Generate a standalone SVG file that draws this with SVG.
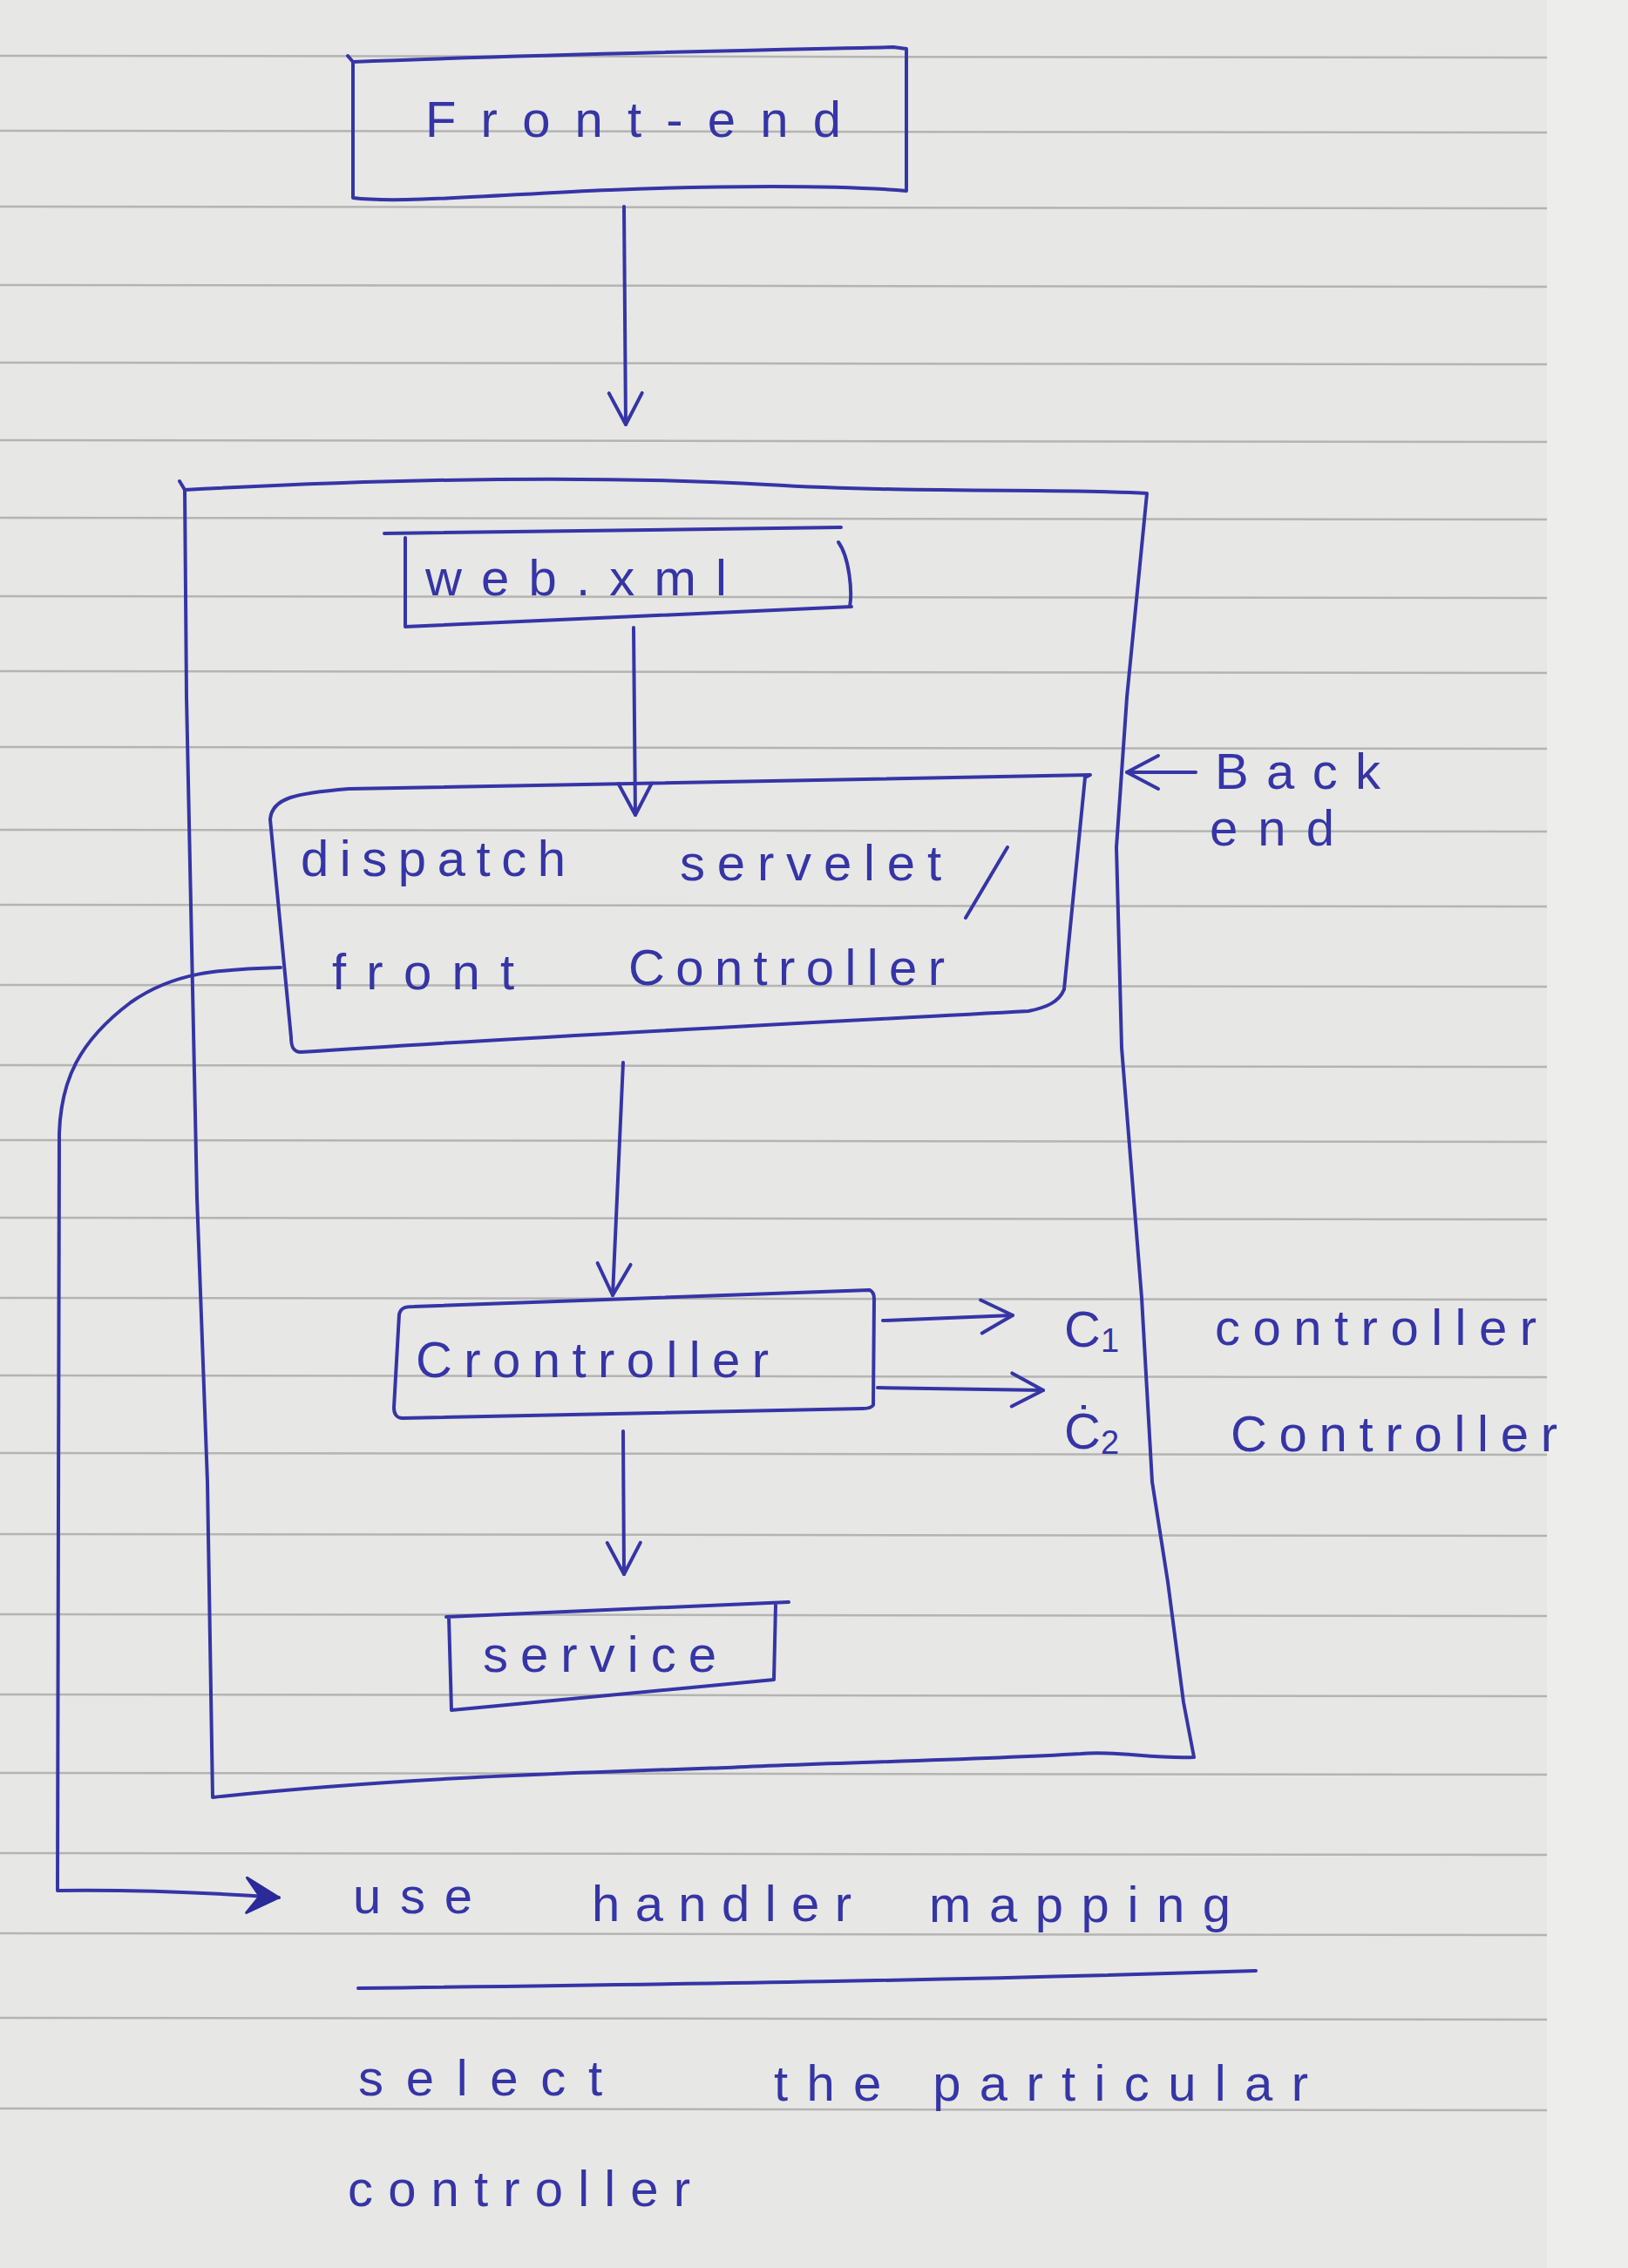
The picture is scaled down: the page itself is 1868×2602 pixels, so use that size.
<svg xmlns="http://www.w3.org/2000/svg" width="1868" height="2602" viewBox="0 0 1868 2602">
<defs>
<style>
.ink{fill:none;stroke:#3535a6;stroke-width:4;stroke-linecap:round;stroke-linejoin:round}
.t{font-family:"Liberation Sans",Arial,sans-serif;fill:#3535a6;font-size:58px;lengthAdjust:spacing}
.rule{stroke:#b4b4b2;stroke-width:2.5}
</style>
<marker id="v" viewBox="0 0 44 44" refX="40" refY="22" markerWidth="44" markerHeight="44" markerUnits="userSpaceOnUse" orient="auto">
<path d="M4,3 L40,22 L4,41" fill="none" stroke="#3535a6" stroke-width="4" stroke-linecap="round" stroke-linejoin="round"/>
</marker>
<marker id="f" viewBox="0 0 44 44" refX="40" refY="22" markerWidth="44" markerHeight="44" markerUnits="userSpaceOnUse" orient="auto">
<path d="M2,2 L40,22 L4,42 L18,22 Z" fill="#2a2a9a" stroke="#2a2a9a" stroke-width="3" stroke-linejoin="round"/>
</marker>
</defs>
<rect width="1868" height="2602" fill="#e7e7e5"/>
<rect x="1775" y="0" width="93" height="2602" fill="#ededec"/>
<g id="paper-rules">
<line class="rule" x1="0" y1="64" x2="1775" y2="66"/>
<line class="rule" x1="0" y1="150" x2="1775" y2="152"/>
<line class="rule" x1="0" y1="237" x2="1775" y2="239"/>
<line class="rule" x1="0" y1="327" x2="1775" y2="329"/>
<line class="rule" x1="0" y1="416" x2="1775" y2="418"/>
<line class="rule" x1="0" y1="505" x2="1775" y2="507"/>
<line class="rule" x1="0" y1="594" x2="1775" y2="596"/>
<line class="rule" x1="0" y1="684" x2="1775" y2="686"/>
<line class="rule" x1="0" y1="770" x2="1775" y2="772"/>
<line class="rule" x1="0" y1="857" x2="1775" y2="859"/>
<line class="rule" x1="0" y1="952" x2="1775" y2="954"/>
<line class="rule" x1="0" y1="1038" x2="1775" y2="1040"/>
<line class="rule" x1="0" y1="1130" x2="1775" y2="1132"/>
<line class="rule" x1="0" y1="1222" x2="1775" y2="1224"/>
<line class="rule" x1="0" y1="1308" x2="1775" y2="1310"/>
<line class="rule" x1="0" y1="1397" x2="1775" y2="1399"/>
<line class="rule" x1="0" y1="1489" x2="1775" y2="1491"/>
<line class="rule" x1="0" y1="1578" x2="1775" y2="1580"/>
<line class="rule" x1="0" y1="1667" x2="1775" y2="1669"/>
<line class="rule" x1="0" y1="1760" x2="1775" y2="1762"/>
<line class="rule" x1="0" y1="1852" x2="1775" y2="1854"/>
<line class="rule" x1="0" y1="1944" x2="1775" y2="1946"/>
<line class="rule" x1="0" y1="2034" x2="1775" y2="2036"/>
<line class="rule" x1="0" y1="2126" x2="1775" y2="2128"/>
<line class="rule" x1="0" y1="2218" x2="1775" y2="2220"/>
<line class="rule" x1="0" y1="2315" x2="1775" y2="2317"/>
<line class="rule" x1="0" y1="2419" x2="1775" y2="2421"/>
</g>
<g id="frontend">
<path class="ink" d="M399,64 L405,71 C600,63 850,58 1025,54 L1040,56 L1040,219 C960,212 820,213 700,218 C590,222 460,234 405,227 L405,71"/>
<text class="t" x="488" y="157" textLength="477" lengthAdjust="spacing">Front-end</text>
</g>
<g id="backend">
<path class="ink" d="M206,552 L212,562 C400,552 650,543 880,556 C1050,566 1230,560 1316,566 L1293,800 L1281,972 L1287,1202 L1310,1489 L1322,1700 L1340,1815 L1358,1953 L1370,2016 C1320,2018 1280,2008 1240,2012 C1100,2020 950,2022 834,2028 C650,2034 450,2040 244,2062 L238,1700 L226,1374 L214,800 L212,562"/>
<text class="t" x="1394" y="905" textLength="190" lengthAdjust="spacing">Back</text>
<text class="t" x="1388" y="970" textLength="143" lengthAdjust="spacing">end</text>
</g>
<g id="webxml">
<path class="ink" d="M441,612 L965,605 M465,617 L465,719 L977,696 M962,622 C975,640 978,680 975,696"/>
<text class="t" x="488" y="683" textLength="346" lengthAdjust="spacing" font-size="52">web.xml</text>
</g>
<g id="dispatcher">
<path class="ink" d="M310,940 C312,915 340,910 400,905 L1251,889 L1245,892 L1221,1135 C1215,1150 1200,1156 1180,1160 C900,1175 600,1190 345,1207 C336,1207 334,1200 334,1190 L310,940"/>
<text class="t" x="345" y="1005" textLength="304" lengthAdjust="spacing">dispatch</text>
<text class="t" x="780" y="1010" textLength="300" lengthAdjust="spacing">servelet</text>
<path class="ink" d="M1156,972 L1108,1053"/>
<text class="t" x="381" y="1135" textLength="209" lengthAdjust="spacing">front</text>
<text class="t" x="721" y="1130" textLength="363" lengthAdjust="spacing">Controller</text>
</g>
<g id="controller">
<path class="ink" d="M458,1508 C460,1500 465,1499 475,1499 L998,1480 C1002,1482 1003,1485 1003,1490 L1002,1612 C1000,1615 995,1616 990,1616 L462,1627 C455,1627 452,1622 452,1615 Z"/>
<text class="t" x="477" y="1580" textLength="405" lengthAdjust="spacing">Crontroller</text>
</g>
<g id="c1">
<text class="t" x="1221" y="1545">C<tspan font-size="38" dy="6">1</tspan></text>
<text class="t" x="1394" y="1543" textLength="369" lengthAdjust="spacing">controller</text>
</g>
<g id="c2">
<text class="t" x="1221" y="1662">Ċ<tspan font-size="38" dy="6">2</tspan></text>
<text class="t" x="1412" y="1665" textLength="375" lengthAdjust="spacing">Controller</text>
</g>
<g id="service">
<path class="ink" d="M512,1855 L905,1838 M890,1841 L888,1927 L518,1962 L515,1855"/>
<text class="t" x="554" y="1918" textLength="268" lengthAdjust="spacing">service</text>
</g>
<g id="handler-mapping">
<text class="t" x="405" y="2195" textLength="137" lengthAdjust="spacing">use</text>
<text class="t" x="679" y="2204" textLength="298" lengthAdjust="spacing">handler</text>
<text class="t" x="1066" y="2205" textLength="346" lengthAdjust="spacing">mapping</text>
<path class="ink" d="M411,2281 C800,2276 1100,2272 1441,2261"/>
<text class="t" x="411" y="2404" textLength="280" lengthAdjust="spacing">select</text>
<text class="t" x="888" y="2410" textLength="613" lengthAdjust="spacing">the particular</text>
<text class="t" x="399" y="2531" textLength="393" lengthAdjust="spacing">controller</text>
</g>
<g id="connectors">
<path class="ink" d="M716,237 L718,487" marker-end="url(#v)"/>
<path class="ink" d="M727,720 L729,935" marker-end="url(#v)"/>
<path class="ink" d="M715,1219 L703,1486" marker-end="url(#v)"/>
<path class="ink" d="M715,1642 L716,1806" marker-end="url(#v)"/>
<path class="ink" d="M1013,1515 L1162,1509" marker-end="url(#v)"/>
<path class="ink" d="M1007,1592 L1197,1595" marker-end="url(#v)"/>
<path class="ink" d="M1372,886 L1293,886" marker-end="url(#v)"/>
<path class="ink" d="M322,1110 C250,1112 200,1115 150,1150 C90,1195 70,1240 68,1300 L66,2169 C150,2168 250,2172 320,2177" marker-end="url(#f)"/>
</g>
</svg>
